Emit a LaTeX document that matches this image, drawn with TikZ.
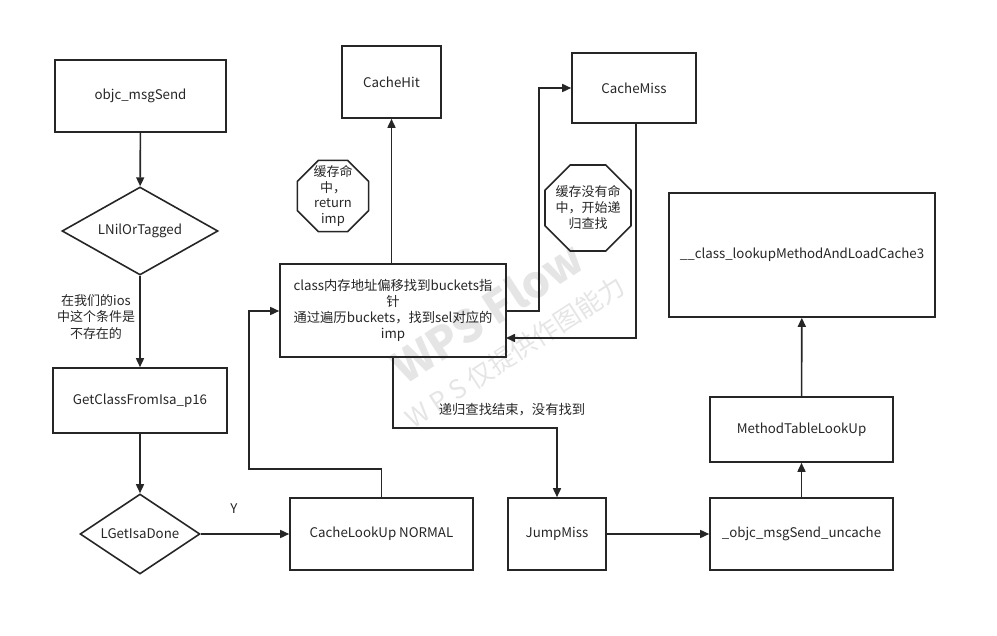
\documentclass[tikz,border=0pt]{standalone}
\usepackage{fontspec}
\setmainfont{Noto Sans CJK SC}
\usetikzlibrary{arrows.meta,shapes.geometric}
\begin{document}
\begin{tikzpicture}[x=1pt,y=-1pt,
  every node/.style={font=\fontsize{13.3}{16}\selectfont, text=black!85},
  box/.style={draw=black!85, line width=1.6pt, inner sep=0pt},
  dia/.style={draw=black!85, line width=1.6pt, diamond, inner sep=0pt, aspect=1.7},
  octa/.style={draw=black!85, line width=1.6pt, regular polygon, regular polygon sides=8, inner sep=0pt},
  conn/.style={draw=black!85, line width=1.6pt, -{Triangle[length=9pt,width=8pt]}},
  wm/.style={text=black!10, rotate=33}
]
\useasboundingbox (0,0) rectangle (997,636);
% watermark
\node[wm, font=\fontsize{44}{44}\selectfont\bfseries] (wm1) at (487,312) {WPS Flow};
\node[wm, font=\fontsize{26}{26}\selectfont] (wm2) at (515,352) {W P S 仅提供作图能力};

% nodes
\node[box, minimum width=171pt, minimum height=72pt] (send) at (140.5,96) {objc\_msgSend};
\node[dia, minimum width=156pt, minimum height=88pt] (nil) at (140,231) {LNilOrTagged};
\node[box, minimum width=174pt, minimum height=65pt] (getc) at (140,400.5) {GetClassFromIsa\_p16};
\node[dia, minimum width=120pt, minimum height=80pt] (done) at (140,534) {LGetIsaDone};
\node[box, minimum width=183pt, minimum height=72pt] (lookup) at (381.5,534) {CacheLookUp NORMAL};
\node[box, minimum width=98pt, minimum height=72pt] (jump) at (557,534) {JumpMiss};
\node[box, minimum width=183pt, minimum height=72pt] (uncache) at (801.5,534) {\_objc\_msgSend\_uncache};
\node[box, minimum width=183pt, minimum height=65pt] (mtl) at (801.5,429.5) {MethodTableLookUp};
\node[box, minimum width=266pt, minimum height=124pt] (cls) at (802,255) {\_\_class\_lookupMethodAndLoadCache3};
\node[box, minimum width=226pt, minimum height=93pt, align=center] (buck) at (393,310.5)
  {class内存地址偏移找到buckets指\\针\\通过遍历buckets，找到sel对应的\\imp};
\node[box, minimum width=99pt, minimum height=72pt] (hit) at (391.5,82) {CacheHit};
\node[box, minimum width=124pt, minimum height=70pt] (miss) at (634,88) {CacheMiss};
\node[octa, minimum size=77pt] (o1) at (333,196) {};
\node[align=center, font=\fontsize{13}{15.5}\selectfont] (o1t) at (o1.center) {缓存命\\中，\\return\\imp};
\node[octa, minimum size=93pt] (o2) at (588,208) {};
\node[align=center, font=\fontsize{13}{16}\selectfont] (o2t) at (o2.center) {缓存没有命\\中，开始递\\归查找};

% labels
\node[align=center, font=\fontsize{13}{16.5}\selectfont] (lab1) at (96,317) {在我们的ios\\中这个条件是\\不存在的};
\node (laby) at (234,509) {Y};
\node (lab2) at (512,410) {递归查找结束，没有找到};

% coordinates
\coordinate (c1) at (381.5,469);
\coordinate (c2) at (249,469);
\coordinate (c3) at (249,311);
\coordinate (bR1) at (506,311);
\coordinate (c4) at (539,311);
\coordinate (c5) at (539,88);
\coordinate (c6) at (636,338);
\coordinate (bR2) at (506,338);
\coordinate (c7) at (393,428);
\coordinate (c8) at (557,428);

% connectors
\draw[conn] (send) -- (nil);
\draw[conn] (nil) -- (getc);
\draw[conn] (getc) -- (done);
\draw[conn] (done) -- (lookup);
\draw[conn] (lookup.north) -- (c1) -- (c2) -- (c3) -- (c3 -| buck.west);
\draw[conn] (buck.north -| hit) -- (hit.south);
\draw[conn] (bR1) -- (c4) -- (c5) -- (miss.west);
\draw[conn] (miss.south -| c6) -- (c6) -- (bR2);
\draw[conn] (buck.south) -- (c7) -- (c8) -- (jump.north);
\draw[conn] (jump) -- (uncache);
\draw[conn] (uncache) -- (mtl);
\draw[conn] (mtl) -- (cls);
\end{tikzpicture}
\end{document}
